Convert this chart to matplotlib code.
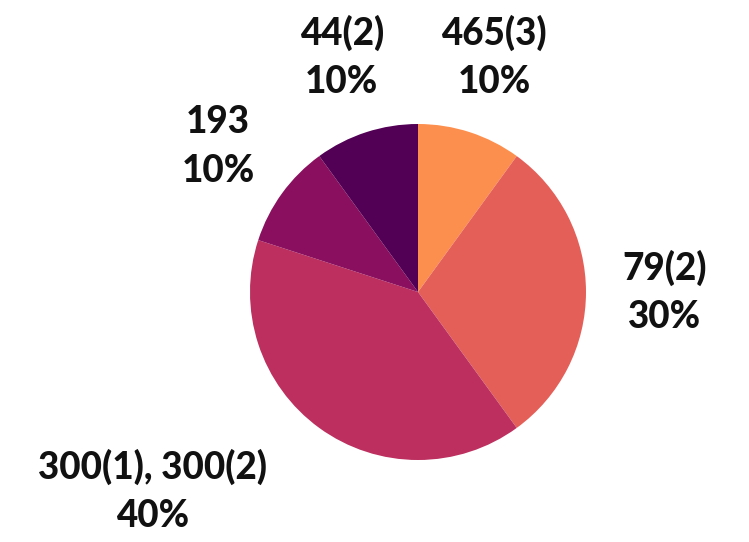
import numpy as np
import matplotlib
matplotlib.use('Agg')
from matplotlib import pyplot as plt

labels = ['465(3)', '79(2)', '300(1), 300(2)', '193', '44(2)']
shares = [10, 30, 40, 10, 10]
colors = ['#fd8f4e', '#e45f58', '#bc2f5e', '#8a0f5e', '#520055']
# the 40% label sits further out and to the left in the reference
label_nudge = {2: (-120, 0)}

plt.rcParams['font.family'] = ['Lato', 'DejaVu Sans']

W, H = 749, 542
fig = plt.figure(figsize=(W / 100, H / 100), dpi=100)
ax = fig.add_axes([0, 0, 1, 1])

center = (418, H - 292)
radius = 168
wedges, _ = ax.pie(shares, colors=colors, startangle=90, counterclock=False,
                   center=center, radius=radius, frame=True,
                   wedgeprops=dict(linewidth=0))
ax.set_xlim(0, W)
ax.set_ylim(0, H)
ax.axis('off')

line_gap = 24.5
for i, w in enumerate(wedges):
    ang = np.deg2rad((w.theta1 + w.theta2) / 2)
    x = center[0] + 1.47 * radius * np.cos(ang)
    y = center[1] + 1.47 * radius * np.sin(ang)
    dx, dy = label_nudge.get(i, (0, 0))
    for k, s in enumerate([labels[i], '{}%'.format(shares[i])]):
        ax.text(x + dx, y + dy + line_gap * (1 - 2 * k), s,
                ha='center', va='center', fontsize=26.5, fontweight='black',
                color='#111111')

fig.savefig('out.png', dpi=100)
